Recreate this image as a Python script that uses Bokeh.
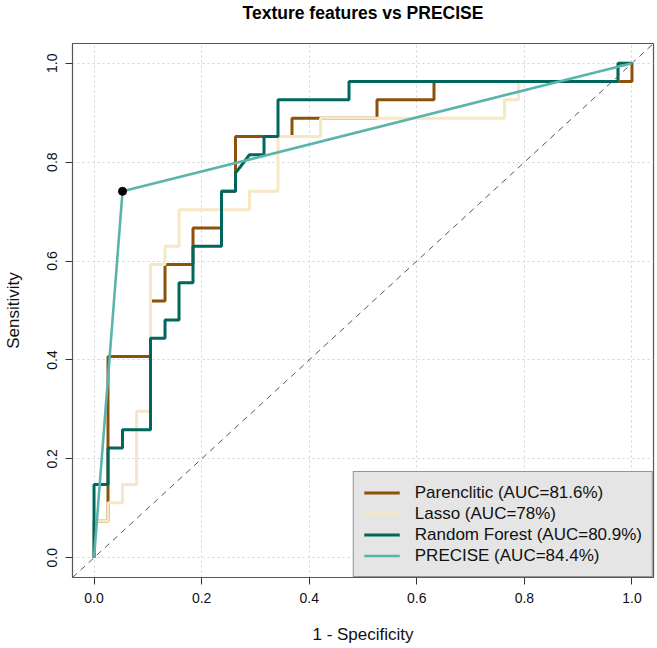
from bokeh.plotting import figure
from bokeh.models import (Range1d, Slope, Legend, LegendItem, FixedTicker,
                          PrintfTickFormatter, Title)
from bokeh.embed import file_html
from bokeh.resources import INLINE

# ---- data (1 - specificity, sensitivity) ----
par_x = [0.0, 0.0, 0.026, 0.026, 0.105, 0.105, 0.132, 0.132, 0.184, 0.184, 0.237, 0.237,
         0.263, 0.263, 0.368, 0.368, 0.526, 0.526, 0.632, 0.632, 1.0, 1.0]
par_y = [0.0, 0.074, 0.074, 0.407, 0.407, 0.519, 0.519, 0.593, 0.593, 0.667, 0.667, 0.741,
         0.741, 0.852, 0.852, 0.889, 0.889, 0.926, 0.926, 0.963, 0.963, 1.0]

las_x = [0.0, 0.0, 0.026, 0.026, 0.053, 0.053, 0.079, 0.079, 0.105, 0.105, 0.132, 0.132,
         0.158, 0.158, 0.289, 0.289, 0.342, 0.342, 0.421, 0.421, 0.763, 0.763, 0.789, 0.789,
         0.974, 0.974, 1.0]
las_y = [0.0, 0.074, 0.074, 0.111, 0.111, 0.148, 0.148, 0.296, 0.296, 0.593, 0.593, 0.630,
         0.630, 0.704, 0.704, 0.741, 0.741, 0.852, 0.852, 0.889, 0.889, 0.926, 0.926, 0.963,
         0.963, 1.0, 1.0]

rf_x = [0.0, 0.0, 0.026, 0.026, 0.053, 0.053, 0.105, 0.105, 0.132, 0.132, 0.158, 0.158,
        0.184, 0.184, 0.237, 0.237, 0.263, 0.263, 0.289, 0.316, 0.316, 0.342, 0.342, 0.474,
        0.474, 0.974, 0.974, 1.0]
rf_y = [0.0, 0.148, 0.148, 0.222, 0.222, 0.259, 0.259, 0.444, 0.444, 0.481, 0.481, 0.556,
        0.556, 0.630, 0.630, 0.741, 0.741, 0.778, 0.815, 0.815, 0.852, 0.852, 0.926, 0.926,
        0.963, 0.963, 1.0, 1.0]

pre_x = [0.0, 0.053, 1.0]
pre_y = [0.0, 0.741, 1.0]

best_x = [0.053]
best_y = [0.741]

labels = ["Parenclitic (AUC=81.6%)", "Lasso (AUC=78%)",
          "Random Forest (AUC=80.9%)", "PRECISE (AUC=84.4%)"]
colors = ["#8C510A", "#F6E8C3", "#01665E", "#5AB4AC"]
ticks = [0.0, 0.2, 0.4, 0.6, 0.8, 1.0]
title_text = "Texture features vs PRECISE"

FONT = "Liberation Sans"

p = figure(width=656, height=647, output_backend="svg", toolbar_location=None,
           x_range=Range1d(-0.04, 1.04), y_range=Range1d(-0.04, 1.04),
           min_border_left=69, min_border_right=3, min_border_top=0, min_border_bottom=70)
p.title = None

# spacer (closest to the frame) then the real title above it
p.add_layout(Title(text=" ", text_font_size="17px", standoff=0), "above")
p.add_layout(Title(text=title_text, align="center", text_font=FONT,
                   text_font_style="bold", text_font_size="17.5px",
                   text_color="#000000", standoff=0), "above")

p.background_fill_color = "white"
p.border_fill_color = "white"
p.outline_line_color = "#555555"
p.outline_line_width = 1.2

for ax in (p.xaxis[0], p.yaxis[0]):
    ax.ticker = FixedTicker(ticks=ticks)
    ax.formatter = PrintfTickFormatter(format="%.1f")
    ax.axis_line_color = None
    ax.major_tick_in = 0
    ax.major_tick_out = 7
    ax.major_tick_line_color = "#333333"
    ax.minor_tick_line_color = None
    ax.major_label_text_font = FONT
    ax.major_label_text_font_size = "14px"
    ax.major_label_text_color = "#111111"
    ax.axis_label_text_font = FONT
    ax.axis_label_text_font_size = "17px"
    ax.axis_label_text_font_style = "normal"
    ax.axis_label_text_color = "#111111"

p.xaxis.axis_label = "1 - Specificity"
p.yaxis.axis_label = "Sensitivity"
p.yaxis.major_label_orientation = "vertical"
p.xaxis.major_label_standoff = 8
p.yaxis.major_label_standoff = 8
p.xaxis.axis_label_standoff = 19
p.yaxis.axis_label_standoff = 22

for g in (p.xgrid[0], p.ygrid[0]):
    g.ticker = FixedTicker(ticks=ticks)
    g.grid_line_color = "#D3D3D3"
    g.grid_line_dash = "2 3"
    g.grid_line_width = 1

p.add_layout(Slope(gradient=1, y_intercept=0, line_color="#555555",
                   line_dash="6 5", line_width=1))

r_par = p.line(par_x, par_y, line_color=colors[0], line_width=3)
r_las = p.line(las_x, las_y, line_color=colors[1], line_width=3)
r_rf = p.line(rf_x, rf_y, line_color=colors[2], line_width=3)
r_pre = p.line(pre_x, pre_y, line_color=colors[3], line_width=2.6)
p.scatter(best_x, best_y, size=8, color="black")

legend = Legend(items=[LegendItem(label=labels[i], renderers=[r])
                       for i, r in enumerate([r_par, r_las, r_rf, r_pre])],
                location="bottom_right", margin=0, padding=10, spacing=0,
                glyph_width=36, glyph_height=21, label_height=21, label_standoff=15,
                label_text_font=FONT, label_text_font_size="17px",
                label_text_color="#111111",
                background_fill_color="#E5E5E5", background_fill_alpha=1.0,
                border_line_color="#444444", border_line_width=1)
p.add_layout(legend)

open("out.html", "w").write(file_html(p, INLINE))
